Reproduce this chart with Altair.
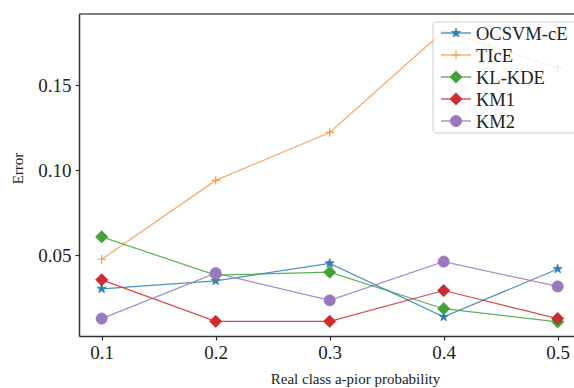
import math
import altair as alt
import pandas as pd

# Class prior on the x axis and the error of each estimator
prior = [0.1, 0.2, 0.3, 0.4, 0.5]
ocsvm_ce = [0.0301, 0.0348, 0.0451, 0.0136, 0.0418]
tice = [0.0475, 0.0939, 0.1221, 0.1818, 0.1601]
kl_kde = [0.0607, 0.0382, 0.0399, 0.0184, 0.0107]
km1 = [0.0354, 0.0110, 0.0110, 0.0291, 0.0126]
km2 = [0.0126, 0.0393, 0.0233, 0.0461, 0.0315]

series_names = ["OCSVM-cE", "TIcE", "KL-KDE", "KM1", "KM2"]
series_values = [ocsvm_ce, tice, kl_kde, km1, km2]

FONT = "Liberation Serif"
W, H = 495, 322


def star_path(outer=1.0, inner=0.4):
    pts = []
    for k in range(10):
        r = outer if k % 2 == 0 else inner
        a = math.radians(-90 + 36 * k)
        pts.append(f"{r * math.cos(a):.3f},{r * math.sin(a):.3f}")
    return "M" + "L".join(pts) + "Z"


PLUS = "M-1,0L1,0M0,-1L0,1"

# marker style per series: colour, symbol, size, filled
styles = {
    "OCSVM-cE": ("#2f7fb8", star_path(), 90, True),
    "TIcE": ("#f59a4a", PLUS, 70, False),
    "KL-KDE": ("#3fa33a", "diamond", 150, True),
    "KM1": ("#cf2a2e", "diamond", 150, True),
    "KM2": ("#9a78c0", "circle", 125, True),
}

x_scale = alt.Scale(domain=[0.0801, 0.5143], nice=False, zero=False)
y_scale = alt.Scale(domain=[0.00235, 0.1918], nice=False, zero=False)

x_enc = alt.X(
    "prior:Q",
    scale=x_scale,
    axis=alt.Axis(
        values=prior,
        format=".1f",
        title="Real class a-pior probability",
        titleX=276,
        titleY=47,
        titleAlign="center",
        titleBaseline="alphabetic",
        labelPadding=3,
    ),
)
y_enc = alt.Y(
    "error:Q",
    scale=y_scale,
    axis=alt.Axis(
        values=[0.05, 0.10, 0.15],
        format=".2f",
        title="Error",
        titleX=-62,
        titleY=154,
        titleAlign="center",
        titleBaseline="middle",
        labelPadding=4,
    ),
)

layers = []
for name, vals in zip(series_names, series_values):
    color, shape, size, filled = styles[name]
    df = pd.DataFrame({"prior": prior, "error": vals})
    base = alt.Chart(df).encode(x=x_enc, y=y_enc)
    layers.append(base.mark_line(color=color, strokeWidth=1.2, opacity=0.85))
    if filled:
        layers.append(
            base.mark_point(
                shape=shape, size=size, fill=color, stroke=color,
                fillOpacity=1, strokeWidth=0.8, opacity=1,
            )
        )
    else:
        layers.append(
            base.mark_point(
                shape=shape, size=size, stroke=color, fill=None,
                strokeWidth=1.2, opacity=1,
            )
        )

# top frame line
one = pd.DataFrame({"k": [0]})
layers.append(
    alt.Chart(one).mark_rule(color="#555", strokeWidth=1.5).encode(
        x=alt.value(0), x2=alt.value(W), y=alt.value(0)
    )
)

# legend box with its entries
layers.append(
    alt.Chart(one).mark_rect(
        fill="white", fillOpacity=0.8, stroke="#cccccc", strokeWidth=1, cornerRadius=3
    ).encode(x=alt.value(354), x2=alt.value(520), y=alt.value(8), y2=alt.value(119))
)
for i, name in enumerate(series_names):
    color, shape, size, filled = styles[name]
    ry = 19 + i * 22
    row = pd.DataFrame({"name": [name]})
    layers.append(
        alt.Chart(row).mark_rule(color=color, strokeWidth=1.2).encode(
            x=alt.value(362), x2=alt.value(392), y=alt.value(ry)
        )
    )
    if filled:
        pt = alt.Chart(row).mark_point(
            shape=shape, size=size, fill=color, stroke=color,
            fillOpacity=1, strokeWidth=0.8, opacity=1,
        )
    else:
        pt = alt.Chart(row).mark_point(
            shape=shape, size=size, stroke=color, fill=None, strokeWidth=1.2, opacity=1,
        )
    layers.append(pt.encode(x=alt.value(377), y=alt.value(ry)))
    layers.append(
        alt.Chart(row).mark_text(
            font=FONT, fontSize=18.5, color="#222", align="left", baseline="middle"
        ).encode(x=alt.value(397), y=alt.value(ry + 1), text="name:N")
    )

chart = (
    alt.layer(*layers)
    .properties(
        width=W,
        height=H,
        padding={"left": 79, "top": 14, "right": 0, "bottom": 52},
        autosize="none",
        background="white",
    )
    .configure_view(stroke=None)
    .configure_axis(
        grid=False,
        domainColor="#333",
        domainWidth=1.5,
        tickColor="#333",
        tickSize=4,
        tickWidth=1.2,
        labelFont=FONT,
        labelFontSize=19,
        labelColor="#222",
        titleFont=FONT,
        titleFontSize=15,
        titleFontWeight="normal",
        titleColor="#222",
    )
)

chart.save("out.html", embed_options={"renderer": "svg", "actions": False})
